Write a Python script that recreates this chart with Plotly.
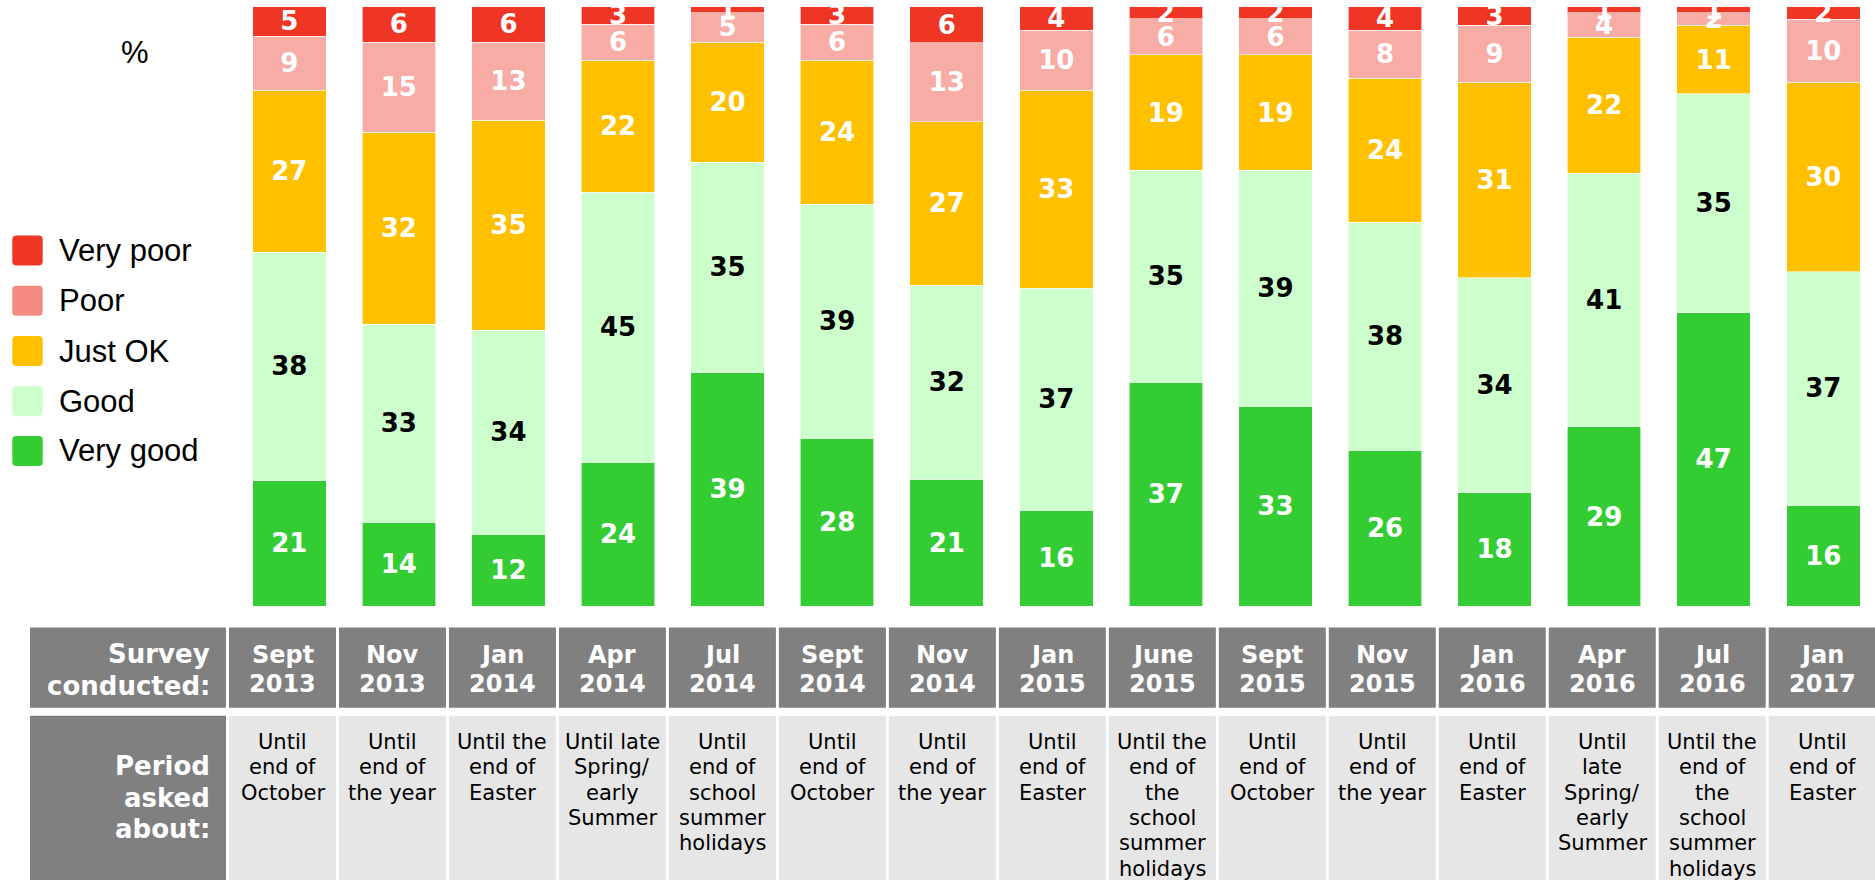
import plotly.graph_objects as go

# ---- data -------------------------------------------------------------
surveys = ["Sept<br>2013", "Nov<br>2013", "Jan<br>2014", "Apr<br>2014", "Jul<br>2014",
           "Sept<br>2014", "Nov<br>2014", "Jan<br>2015", "June<br>2015", "Sept<br>2015",
           "Nov<br>2015", "Jan<br>2016", "Apr<br>2016", "Jul<br>2016", "Jan<br>2017"]

periods = ["Until<br>end of<br>October",
           "Until<br>end of<br>the year",
           "Until the<br>end of<br>Easter",
           "Until late<br>Spring/<br>early<br>Summer",
           "Until<br>end of<br>school<br>summer<br>holidays",
           "Until<br>end of<br>October",
           "Until<br>end of<br>the year",
           "Until<br>end of<br>Easter",
           "Until the<br>end of<br>the<br>school<br>summer<br>holidays",
           "Until<br>end of<br>October",
           "Until<br>end of<br>the year",
           "Until<br>end of<br>Easter",
           "Until<br>late<br>Spring/<br>early<br>Summer",
           "Until the<br>end of<br>the<br>school<br>summer<br>holidays",
           "Until<br>end of<br>Easter"]

very_good = [21, 14, 12, 24, 39, 28, 21, 16, 37, 33, 26, 18, 29, 47, 16]
good      = [38, 33, 34, 45, 35, 39, 32, 37, 35, 39, 38, 34, 41, 35, 37]
just_ok   = [27, 32, 35, 22, 20, 24, 27, 33, 19, 19, 24, 31, 22, 11, 30]
poor      = [9, 15, 13, 6, 5, 6, 13, 10, 6, 6, 8, 9, 4, 2, 10]
very_poor = [5, 6, 6, 3, 1, 3, 6, 4, 2, 2, 4, 3, 1, 1, 2]

categories = ["Very good", "Good", "Just OK", "Poor", "Very poor"]
series = [very_good, good, just_ok, poor, very_poor]
bar_colors = ["#33CC33", "#CCFFCC", "#FFC000", "#F8ACA6", "#EF3524"]
label_colors = ["white", "black", "white", "white", "white"]
swatch_colors = ["#33CC33", "#CCFFCC", "#FFC000", "#F58A80", "#EF3524"]

# ---- page geometry (pixels) -------------------------------------------
W, H = 1875, 880
def px(x):
    return x / W
def py(y):
    return 1 - y / H

BAR0, PITCH = 289.3, 109.57        # first bar centre and spacing
BAR_TOP, BAR_BOTTOM = 6.5, 606.3

fig = go.Figure()
xs = list(range(len(surveys)))
for name, vals, col, tcol in zip(categories, series, bar_colors, label_colors):
    fig.add_trace(go.Bar(
        x=xs, y=vals, name=name, text=[str(v) for v in vals],
        texttemplate="%{text}", textposition="inside", insidetextanchor="middle",
        textangle=0,
        textfont=dict(family="DejaVu Sans", size=26, color=tcol, weight="bold"),
        marker=dict(color=col, line=dict(color="rgba(255,255,255,0.6)", width=1)),
        width=0.671, showlegend=False, hoverinfo="name+y",
    ))

fig.update_layout(
    width=W, height=H, margin=dict(l=0, r=0, t=0, b=0),
    barmode="stack", barnorm="percent",
    paper_bgcolor="white", plot_bgcolor="white",
    uniformtext=dict(minsize=26, mode="show"),
    xaxis=dict(domain=[0, 1], range=[-BAR0 / PITCH, (W - BAR0) / PITCH],
               visible=False, fixedrange=True),
    yaxis=dict(domain=[py(BAR_BOTTOM), py(BAR_TOP)], range=[0, 100],
               visible=False, fixedrange=True),
)

shapes = []
annotations = []

# "%" unit label
annotations.append(dict(x=px(135), y=py(53), xref="paper", yref="paper", text="%",
                        showarrow=False, xanchor="center", yanchor="middle",
                        font=dict(family="Liberation Sans, Arial", size=31, color="black")))

# legend (top entry first)
legend_y = [250.5, 300.7, 351.0, 401.2, 451.0]
for yy, name, col in zip(legend_y, categories[::-1], swatch_colors[::-1]):
    x0, x1, y0, y1, r = 12.3, 42.7, yy - 15, yy + 15, 4
    path = (f"M {px(x0 + r)} {py(y0)} L {px(x1 - r)} {py(y0)} "
            f"Q {px(x1)} {py(y0)} {px(x1)} {py(y0 + r)} L {px(x1)} {py(y1 - r)} "
            f"Q {px(x1)} {py(y1)} {px(x1 - r)} {py(y1)} L {px(x0 + r)} {py(y1)} "
            f"Q {px(x0)} {py(y1)} {px(x0)} {py(y1 - r)} L {px(x0)} {py(y0 + r)} "
            f"Q {px(x0)} {py(y0)} {px(x0 + r)} {py(y0)} Z")
    shapes.append(dict(type="path", path=path, xref="paper", yref="paper",
                       fillcolor=col, line=dict(width=0), layer="above"))
    annotations.append(dict(x=px(57), y=py(yy), xref="paper", yref="paper", text=name,
                            showarrow=False, xanchor="left", yanchor="middle",
                            font=dict(family="Liberation Sans, Arial", size=31, color="black")))

# ---- table beneath the bars -------------------------------------------
HDR_TOP, HDR_BOT = 627.5, 707.7
ROW_TOP, ROW_BOT = 715.7, 880
LBL_X0, LBL_X1 = 30, 226
COL0, COL_PITCH, COL_W = 229, 109.98, 107
DARK, LIGHT = "#808080", "#E6E6E6"

def rect(x0, x1, y0, y1, color):
    shapes.append(dict(type="rect", xref="paper", yref="paper",
                       x0=px(x0), x1=px(min(x1, W)), y0=py(y1), y1=py(y0),
                       fillcolor=color, line=dict(width=0), layer="below"))

def line_text(x, y, txt, size, bold, color, anchor="center"):
    annotations.append(dict(x=px(x), y=py(y), xref="paper", yref="paper", text=txt,
                            showarrow=False, xanchor=anchor, yanchor="middle",
                            font=dict(family="DejaVu Sans", size=size, color=color,
                                      weight="bold" if bold else "normal")))

rect(LBL_X0, LBL_X1, HDR_TOP, HDR_BOT, DARK)
rect(LBL_X0, LBL_X1, ROW_TOP, ROW_BOT, DARK)
for k, t in enumerate(["Survey", "conducted:"]):
    line_text(212, 654.2 + 31.7 * k, t, 26, True, "white", anchor="right")
for k, t in enumerate(["Period", "asked", "about:"]):
    line_text(212, 766.0 + 31.5 * k, t, 26, True, "white", anchor="right")

for i, (s, p) in enumerate(zip(surveys, periods)):
    x0 = COL0 + COL_PITCH * i
    cx = x0 + COL_W / 2
    rect(x0, x0 + COL_W, HDR_TOP, HDR_BOT, DARK)
    rect(x0, x0 + COL_W, ROW_TOP, ROW_BOT, LIGHT)
    for k, t in enumerate(s.split("<br>")):
        line_text(cx, 655.0 + 29.4 * k, t, 24, True, "white")
    for k, t in enumerate(p.split("<br>")):
        line_text(cx, 742.0 + 25.3 * k, t, 21, False, "black")

fig.update_layout(shapes=shapes, annotations=annotations)
fig.write_html("out.html")
